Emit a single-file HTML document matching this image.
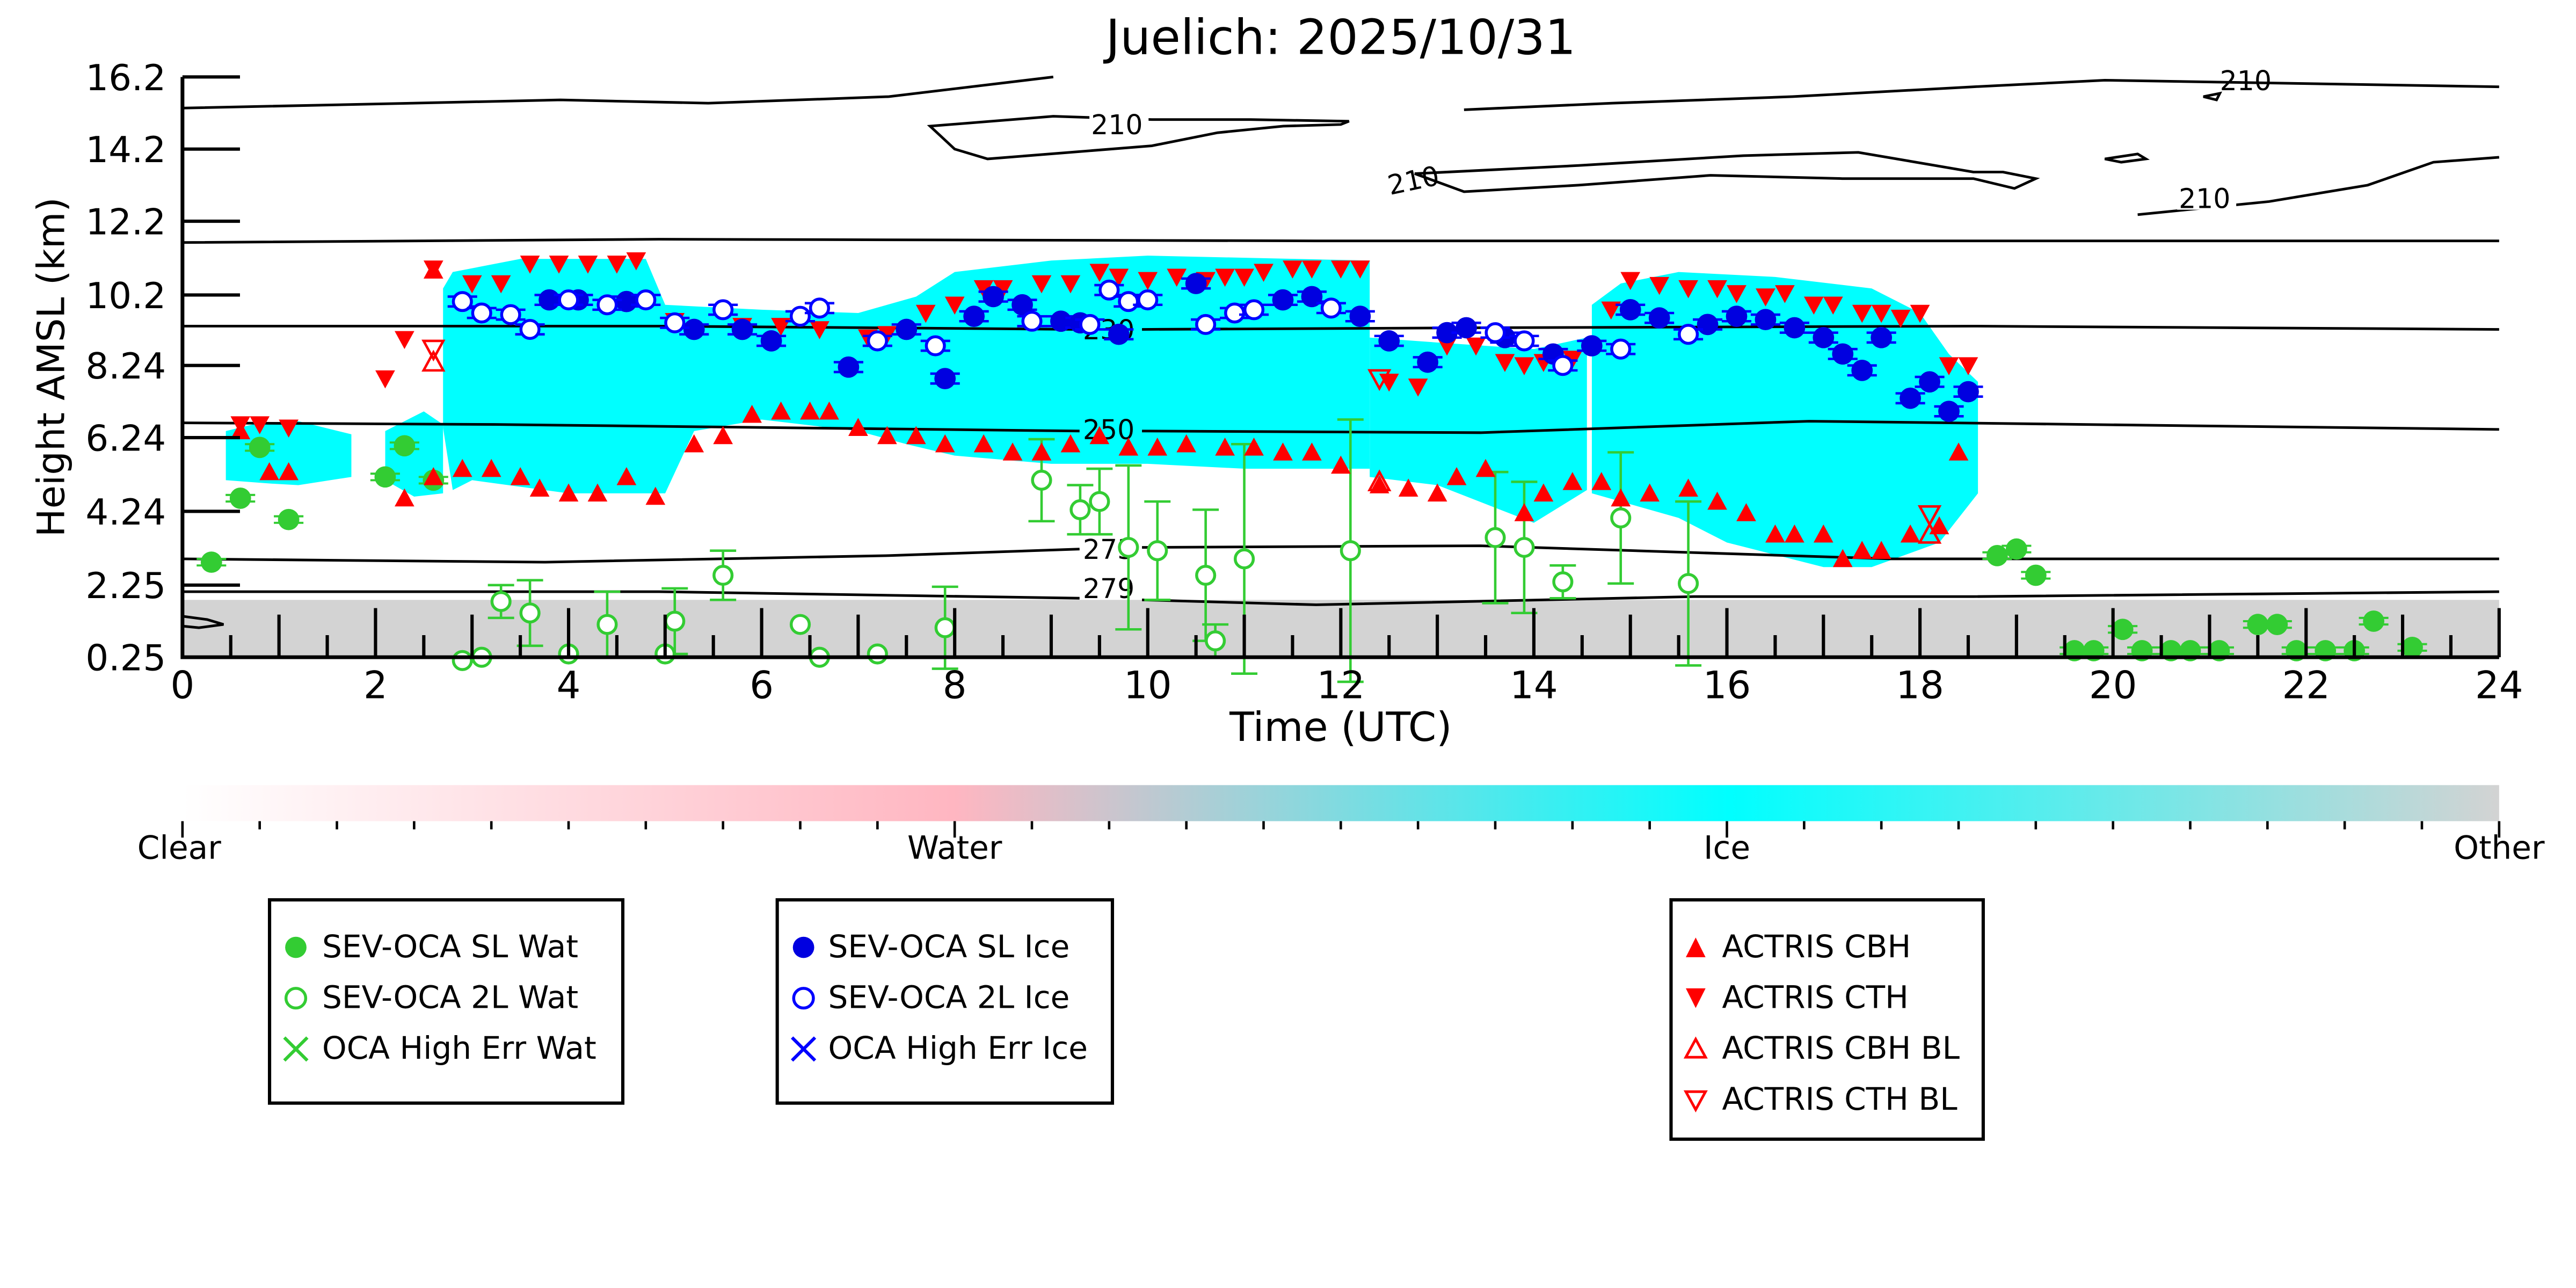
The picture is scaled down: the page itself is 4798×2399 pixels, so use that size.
<!DOCTYPE html>
<html><head><meta charset="utf-8"><style>html,body{margin:0;padding:0;background:#fff}svg{display:block}</style></head>
<body>
<svg id="s" width="4798" height="2399" viewBox="0 0 1560 780" xmlns="http://www.w3.org/2000/svg" font-family="DejaVu Sans, Liberation Sans, sans-serif">
<defs>
<linearGradient id="cb" x1="0" x2="1" y1="0" y2="0">
<stop offset="0" stop-color="#ffffff"/><stop offset="0.333" stop-color="#ffb6c1"/><stop offset="0.667" stop-color="#00ffff"/><stop offset="1" stop-color="#d3d3d3"/>
</linearGradient>
</defs>
<rect width="1560" height="780" fill="#fff"/>
<g transform="matrix(0.995 0 0 0.9927 1.05 0.94)">
<text x="815" y="32" font-size="29.5" text-anchor="middle">Juelich: 2025/10/31</text>
<rect x="110" y="365" width="1410" height="35" fill="#d3d3d3"/>
<g id="clouds" fill="#00ffff"></g>
<g id="contours" fill="none" stroke="#000" stroke-width="1.6">
<path d="M110,65 L250,62 L340,60 L430,62 L540,58 L640,46"/>
<path d="M565,76 L640,70 L700,72 L760,72 L820,73 L815,75 L780,76 L740,80 L700,88 L650,92 L600,96 L580,90 Z"/>
<path d="M890,66 L980,62 L1090,58 L1200,52 L1280,48 L1520,52"/>
<path d="M860,105 L960,100 L1060,94 L1130,92 L1200,104 L1218,104 L1238,108 L1225,114 L1200,108 L1120,108 L1040,106 L960,112 L890,116 Z"/>
<path d="M1300,130 L1380,122 L1440,112 L1480,98 L1520,95"/>
<path d="M1280,96 L1300,93 L1305,96 L1290,98 Z"/>
<path d="M1340,58 L1350,56 L1348,60 Z"/>
<path d="M110,147 L400,145 L800,146 L1200,146 L1520,146"/>
<path d="M110,198 L400,198 L656,200 M694,200 L900,199 L1200,198 L1520,200"/>
<path d="M110,257 L300,258 L656,262 M694,262 L900,263 L1100,256 L1520,261"/>
<path d="M110,340 L330,342 L540,338 L656,334 M694,333 L900,332 L1150,340 L1520,340"/>
<path d="M110,360 L400,360 L656,364 M694,365 L800,368 L1030,363 L1200,363 L1520,360"/>
<path d="M110,375 L125,377 L135,380 L120,382 L110,381"/>
</g>
<g font-size="16.5" fill="#000">
<rect x="662" y="66" width="36" height="16" fill="#fff"/><text x="663" y="81">210</text>
<text x="845" y="118" transform="rotate(-12 845 118)">210</text>
<rect x="1324" y="111" width="36" height="16" fill="#fff"/><text x="1325" y="126">210</text>
<text x="1350" y="54">210</text>
<text x="658" y="206">230</text>
<text x="658" y="267">250</text>
<text x="658" y="340">273</text>
<text x="658" y="364">279</text>
</g>
<g id="marks"></g>
<g stroke="#000" stroke-width="2.3" fill="none">
<path d="M110,46 L110,400 L1520,400"/>
</g>
<g id="ticks" stroke="#000" stroke-width="2"></g>
<g font-size="22" fill="#000" text-anchor="end">
<text x="100" y="54">16.2</text><text x="100" y="98">14.2</text><text x="100" y="142">12.2</text>
<text x="100" y="187">10.2</text><text x="100" y="230">8.24</text><text x="100" y="274">6.24</text>
<text x="100" y="319">4.24</text><text x="100" y="364">2.25</text><text x="100" y="408">0.25</text>
</g>
<g id="xl" font-size="23" text-anchor="middle"></g>
<text x="815" y="451" font-size="24.5" text-anchor="middle">Time (UTC)</text>
<text x="38" y="223" font-size="23" text-anchor="middle" transform="rotate(-90 38 223)">Height AMSL (km)</text>
<rect x="110" y="478" width="1410" height="22" fill="url(#cb)"/>
<g id="cbt" stroke="#000" stroke-width="1.5"></g>
<g font-size="19.5" text-anchor="middle">
<text x="108" y="523">Clear</text><text x="580" y="523">Water</text><text x="1050" y="523">Ice</text><text x="1520" y="523">Other</text>
</g>
<g font-size="19" fill="#000" stroke="none">
<rect x="163" y="548" width="215" height="124" fill="#fff" stroke="#000" stroke-width="2"/>
<circle cx="179" cy="577" r="6.5" fill="#33cc33"/><text x="195" y="583">SEV-OCA SL Wat</text>
<circle cx="179" cy="608" r="6" fill="#fff" stroke="#33cc33" stroke-width="1.8"/><text x="195" y="614">SEV-OCA 2L Wat</text>
<path d="M172,632 L186,646 M186,632 L172,646" stroke="#33cc33" stroke-width="2"/><text x="195" y="645">OCA High Err Wat</text>
<rect x="472" y="548" width="204" height="124" fill="#fff" stroke="#000" stroke-width="2"/>
<circle cx="488" cy="577" r="6.5" fill="#0000e0"/><text x="503" y="583">SEV-OCA SL Ice</text>
<circle cx="488" cy="608" r="6" fill="#fff" stroke="#0000ff" stroke-width="1.8"/><text x="503" y="614">SEV-OCA 2L Ice</text>
<path d="M481,632 L495,646 M495,632 L481,646" stroke="#0000ff" stroke-width="2"/><text x="503" y="645">OCA High Err Ice</text>
<rect x="1016" y="548" width="190" height="146" fill="#fff" stroke="#000" stroke-width="2"/>
<path d="M1031,571 L1037,583 L1025,583 Z" fill="red"/><text x="1047" y="583">ACTRIS CBH</text>
<path d="M1031,614 L1037,602 L1025,602 Z" fill="red"/><text x="1047" y="614">ACTRIS CTH</text>
<path d="M1031,633 L1037,644 L1025,644 Z" fill="none" stroke="red" stroke-width="1.6"/><text x="1047" y="645">ACTRIS CBH BL</text>
<path d="M1031,676 L1037,665 L1025,665 Z" fill="none" stroke="red" stroke-width="1.6"/><text x="1047" y="676">ACTRIS CTH BL</text>
</g>
</g>
<script>
(function(){
var NS="http://www.w3.org/2000/svg";
function X(h){return 110+58.75*h;}
function el(p,t,a){var e=document.createElementNS(NS,t);for(var k in a)e.setAttribute(k,a[k]);p.appendChild(e);return e;}
var polys=[
[[0.45,262],[0.8,257],[1.2,256],[1.75,264],[1.75,290],[1.2,295],[0.9,294],[0.45,292]],
[[2.1,262],[2.5,250],[2.7,258],[2.7,300],[2.4,302],[2.1,292]],
[[2.7,175],[2.8,165],[3.5,157],[4.8,157],[5.0,185],[6.0,188],[7.0,190],[7.6,180],[8.0,165],[9.0,158],[10.0,155],[12.3,158],[12.3,285],[11,285],[10,282],[9,282],[8,277],[7.5,270],[7,262],[6.0,255],[5.3,262],[5.0,300],[4,300],[3,292],[2.8,298],[2.7,260]],
[[12.3,205],[13,208],[14,212],[14.55,205],[14.55,298],[14,318],[13,295],[12.3,290]],
[[14.6,185],[14.9,172],[15.5,165],[16.5,168],[17.5,175],[18.0,190],[18.3,215],[18.6,232],[18.6,300],[18.2,330],[17.5,345],[17,345],[16,330],[15.5,315],[14.6,300]]];
var cg=document.getElementById("clouds");
polys.forEach(function(pp){el(cg,"polygon",{points:pp.map(function(p){return X(p[0]).toFixed(1)+","+p[1];}).join(" ")});});
var m=document.getElementById("marks");
var g2=[[3.3,366,10],[3.6,373,20],[2.9,402,0],[4.4,380,20],[5.1,378,20],[5.6,350,15],[6.4,380,0],[6.6,400,0],[7.9,382,25],[8.9,292,25],[9.3,310,15],[9.5,305,20],[9.8,333,50],[10.1,335,30],[10.6,350,40],[10.7,390,10],[11.0,340,70],[12.1,335,80],[13.6,327,40],[13.9,333,40],[14.3,354,10],[14.9,315,40],[15.6,355,50],[5.0,398,0],[4.0,398,0],[7.2,398,0],[3.1,400,0]];
g2.forEach(function(p){var x=X(p[0]);if(p[2]>0){el(m,"path",{d:"M"+x+","+(p[1]-p[2])+"V"+(p[1]+p[2])+"M"+(x-8)+","+(p[1]-p[2])+"h16M"+(x-8)+","+(p[1]+p[2])+"h16",stroke:"#33cc33","stroke-width":1.5,fill:"none"});}
el(m,"circle",{cx:x,cy:p[1],r:5.5,fill:"#fff",stroke:"#33cc33","stroke-width":1.8});});
var g1=[[0.3,342],[0.6,303],[0.8,272],[1.1,316],[2.1,290],[2.3,271],[2.6,292],[18.8,338],[19.0,334],[19.2,350],[19.6,396],[19.8,396],[20.1,383],[20.3,396],[20.6,396],[20.8,396],[21.1,396],[21.5,380],[21.7,380],[21.9,396],[22.2,396],[22.5,396],[22.7,378],[23.1,394]];
g1.forEach(function(p){var x=X(p[0]);el(m,"path",{d:"M"+(x-9)+","+(p[1]-2)+"h18M"+(x-9)+","+(p[1]+2)+"h18",stroke:"#33cc33","stroke-width":1.3});el(m,"circle",{cx:x,cy:p[1],r:6.5,fill:"#33cc33"});});
function tri(h,y,up,fill){var x=X(h);var d=up?"M"+x+","+(y-6)+"l6,11h-12z":"M"+x+","+(y+6)+"l6,-11h-12z";el(m,"path",{d:d,fill:fill?"red":"none",stroke:fill?"none":"red","stroke-width":1.5});}
var cbh=[[0.6,262],[0.9,287],[1.1,287],[2.3,303],[2.6,290],[2.9,285],[3.2,285],[3.5,290],[3.7,297],[4.0,300],[4.3,300],[4.6,290],[4.9,302],[5.3,270],[5.6,265],[5.9,252],[6.2,250],[6.5,250],[6.7,250],[7.0,260],[7.3,265],[7.6,265],[7.9,270],[8.3,270],[8.6,275],[8.9,275],[9.2,270],[9.5,265],[9.8,272],[10.1,272],[10.4,270],[10.8,272],[11.1,272],[11.4,275],[11.7,275],[12.0,283],[12.4,295],[12.7,297],[13.0,300],[13.2,290],[13.5,285],[13.9,312],[14.1,300],[14.4,293],[14.7,293],[14.9,303],[15.2,300],[15.6,297],[15.9,305],[16.2,312],[16.5,325],[16.7,325],[17.0,325],[17.2,340],[17.4,335],[17.6,335],[17.9,325],[18.2,320],[18.4,275],[2.6,164]];
var cth=[[0.6,258],[0.8,258],[1.1,260],[2.1,230],[2.3,206],[2.6,163],[3.0,172],[3.3,172],[3.6,160],[3.9,160],[4.2,160],[4.5,160],[4.7,158],[5.1,195],[5.8,198],[6.2,198],[6.6,200],[7.1,205],[7.3,203],[7.7,190],[8.0,185],[8.3,175],[8.5,175],[8.9,172],[9.2,172],[9.5,165],[9.7,168],[10.0,170],[10.3,168],[10.6,170],[10.8,168],[11.0,168],[11.2,165],[11.5,163],[11.7,163],[12.0,163],[12.2,163],[12.5,232],[12.8,235],[13.1,210],[13.4,210],[13.7,220],[13.9,222],[14.1,220],[14.4,218],[14.8,188],[15.0,170],[15.3,173],[15.6,175],[15.9,175],[16.1,178],[16.4,180],[16.6,178],[16.9,185],[17.1,185],[17.4,190],[17.6,190],[17.8,193],[18.0,190],[18.3,222],[18.5,222]];
cbh.forEach(function(p){tri(p[0],p[1],true,true);});
cth.forEach(function(p){tri(p[0],p[1],false,true);});
tri(2.6,220,true,false);tri(2.6,212,false,false);tri(12.4,293,true,false);tri(12.4,230,false,false);tri(18.1,325,true,false);tri(18.1,313,false,false);
var bo=[[2.9,183],[3.1,190],[3.4,191],[3.6,200],[4.0,182],[4.4,185],[4.8,182],[5.1,196],[5.6,188],[6.4,192],[6.6,187],[7.2,207],[7.8,210],[8.8,195],[9.4,197],[9.6,176],[9.8,183],[10.0,182],[10.6,197],[10.9,190],[11.1,188],[11.9,187],[13.6,202],[13.9,207],[14.3,222],[14.9,212],[15.6,203]];
var bf=[[3.8,182],[4.1,182],[4.6,183],[5.3,200],[5.8,200],[6.1,207],[6.9,223],[7.5,200],[7.9,230],[8.2,192],[8.4,180],[8.7,185],[9.1,195],[9.3,196],[9.7,203],[10.5,172],[11.4,182],[11.7,180],[12.2,192],[12.5,207],[12.9,220],[13.1,202],[13.3,199],[13.7,205],[14.2,215],[14.6,210],[15.0,188],[15.3,193],[15.8,197],[16.1,192],[16.4,194],[16.7,199],[17.0,205],[17.2,215],[17.4,225],[17.6,205],[17.9,242],[18.1,232],[18.3,250],[18.5,238]];
function bars(x,y){el(m,"path",{d:"M"+(x-9)+","+(y-3)+"h18M"+(x-9)+","+(y+3)+"h18",stroke:"#0000ff","stroke-width":1.5});}
bf.forEach(function(p){var x=X(p[0]);bars(x,p[1]);el(m,"circle",{cx:x,cy:p[1],r:6.5,fill:"#0000e0"});});
bo.forEach(function(p){var x=X(p[0]);bars(x,p[1]);el(m,"circle",{cx:x,cy:p[1],r:5.5,fill:"#fff",stroke:"#0000ff","stroke-width":1.8});});
var t=document.getElementById("ticks");
[46,90,134,179,222,266,311,356,400].forEach(function(y){el(t,"line",{x1:110,x2:145,y1:y,y2:y});});
for(var i=0;i<=48;i++){var x=110+29.375*i;var L=(i%4==0)?30:(i%2==0?26:13.5);el(t,"line",{x1:x,x2:x,y1:400,y2:400-L});}
var xl=document.getElementById("xl");
for(var h=0;h<=24;h+=2){var e=el(xl,"text",{x:X(h),y:425});e.textContent=h;}
var cb=document.getElementById("cbt");
for(var i=0;i<=30;i++){var x=110+47*i;el(cb,"line",{x1:x,x2:x,y1:500,y2:(i%10==0)?510:505});}
})();
</script>
</svg>
</body></html>
